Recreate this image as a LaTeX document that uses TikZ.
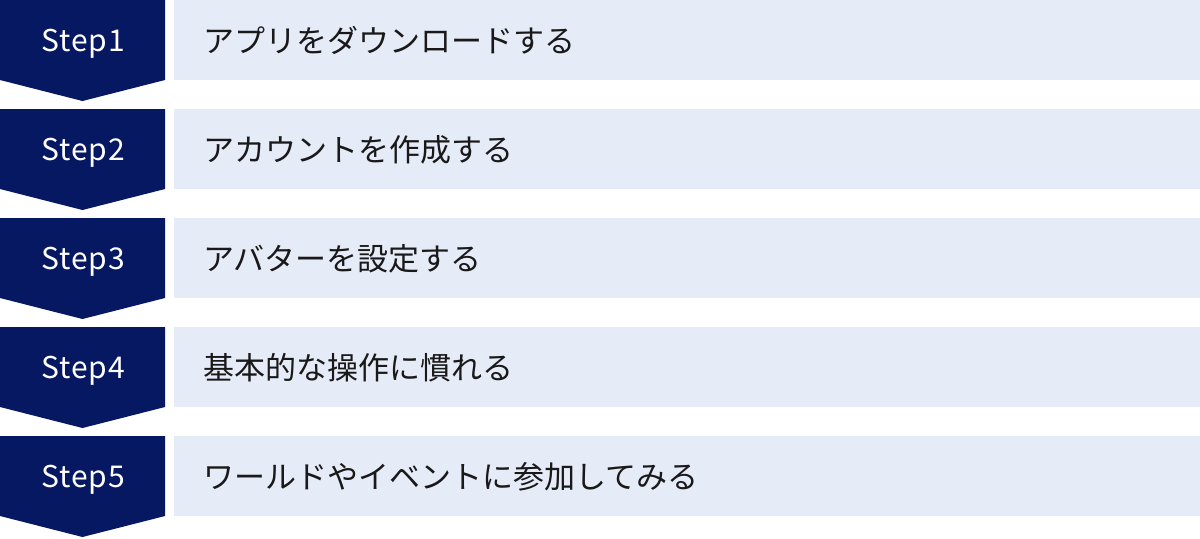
\documentclass[tikz,border=0pt]{standalone}
\usepackage{fontspec}
\setmainfont{Noto Sans}
\newfontfamily\jpfont{Noto Sans CJK JP}
\newfontfamily\stepfont[LetterSpace=3]{Noto Sans CJK JP}
\usetikzlibrary{positioning}

\definecolor{stepnavy}{HTML}{061862}
\definecolor{barblue}{HTML}{E6EBF8}

\begin{document}
\begin{tikzpicture}[
    x=0.5pt, y=-0.5pt,
    node distance=14.5pt,
    stepbox/.style={fill=stepnavy},
    steplabel/.style={text=white, inner sep=0pt, anchor=base, font=\stepfont\fontsize{15}{18}\selectfont},
    bar/.style={fill=barblue, inner sep=0pt, minimum width=513pt, minimum height=40pt, anchor=north west},
    bartext/.style={inner sep=0pt, text=black!90, font=\jpfont\fontsize{15.5}{18}\selectfont}
]

\useasboundingbox (0,0) rectangle (1200,538);

\foreach \i/\txt in {1/アプリをダウンロードする, 2/アカウントを作成する, 3/アバターを設定する, 4/基本的な操作に慣れる, 5/ワールドやイベントに参加してみる}{
    \pgfmathsetmacro\top{(\i-1)*109}
    \fill[stepbox] (0,\top) -- ++(165,0) -- ++(0,80) -- ++(-82.5,21) -- ++(-82.5,-21) -- cycle;
    \node[steplabel] (step\i) at (83,\top+51.5) {Step\i};
    \node[bar] (bar\i) at (174,\top) {};
    \node[bartext, right=of bar\i.west] (text\i) {\txt};
}

\end{tikzpicture}
\end{document}
